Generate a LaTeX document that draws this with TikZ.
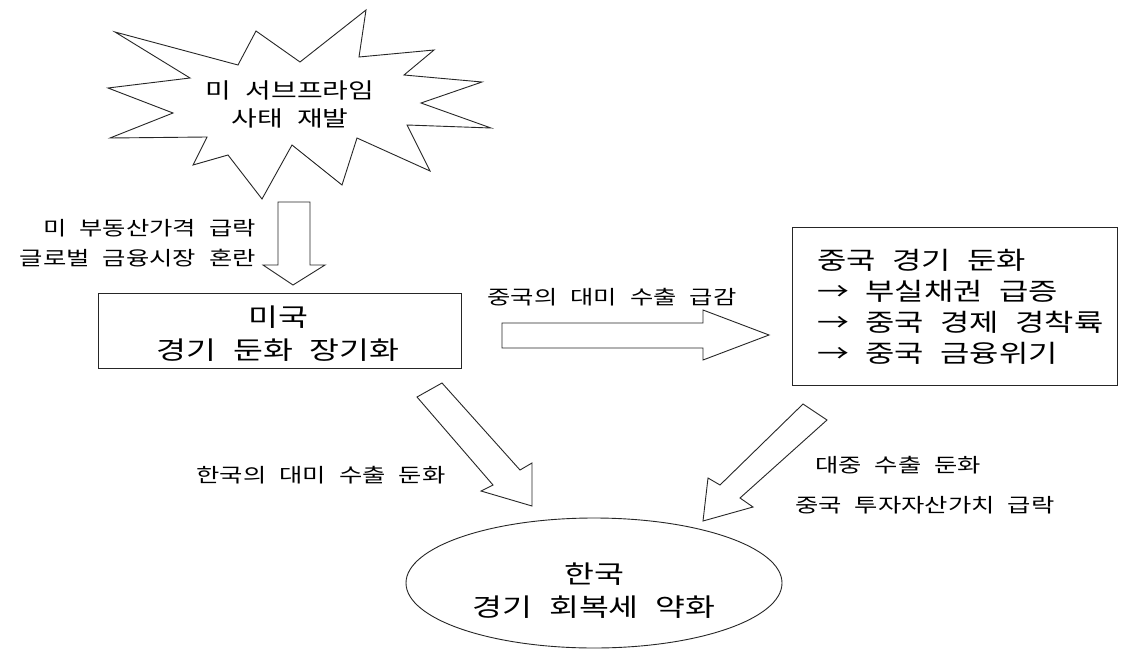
\documentclass[tikz,border=0pt]{standalone}
\usepackage{fontspec}
\usetikzlibrary{shapes.geometric}
\newfontfamily\kr[FakeStretch=1.3,WordSpace=2.3]{Noto Sans CJK KR}
\tikzset{
  shp/.style={draw=black!85, line width=0.9pt, line join=miter, fill=white},
  lbl/.style={font=\kr\fontsize{19.5}{30}\selectfont, inner sep=0pt},
  mid/.style={font=\kr\fontsize{21.5}{28}\selectfont, inner sep=0pt},
  big/.style={font=\kr\fontsize{25}{33}\selectfont, inner sep=0pt},
  cnfont/.style={font=\kr\fontsize{24.5}{31}\selectfont, inner sep=0pt},
  boxshape/.style={draw=black!85, line width=0.9pt},
}
\begin{document}
\begin{tikzpicture}[x=1pt,y=-1pt]
\useasboundingbox[fill=white] (0,0) rectangle (1123,650);

% explosion star
\draw[shp] (366,10) -- (359,57) -- (434,50) -- (404,75) -- (482,82) -- (421,103)
  -- (491,128) -- (407,125) -- (430,171) -- (357,138) -- (342,185) -- (292,145)
  -- (262,199) -- (228,155) -- (193,165) -- (207,137) -- (110,138) -- (173,113)
  -- (108,88) -- (190,78) -- (115,32) -- (238,65) -- (256,31) -- (300,62) -- cycle;
\node[mid, align=center] (star) at (290,104) {미 서브프라임\\사태 재발};

% boxes
\node[boxshape, minimum width=363pt, minimum height=75pt] (us) at (279.5,330.5) {};
\node[big, align=center] (ustxt) at (278,334) {미국\\경기 둔화 장기화};

\node[boxshape, minimum width=325pt, minimum height=158pt] (cn) at (954.5,306) {};
\node[cnfont, align=left, anchor=west] (cntxt) at (817,307)
  {중국 경기 둔화\\→ 부실채권 급증\\→ 중국 경제 경착륙\\→ 중국 금융위기};

\node[boxshape, ellipse, minimum width=376pt, minimum height=130pt, inner sep=0pt] (kr) at (594,583) {};
\node[big, align=center] (krtxt) at (594,591) {한국\\경기 회복세 약화};

% block arrows
\draw[shp] (278,202) -- (310,202) -- (310,265) -- (325,265) -- (293,285) -- (263,265) -- (278,265) -- cycle;
\draw[shp] (502,323) -- (703,323) -- (703,310) -- (769,335) -- (703,360) -- (703,348) -- (502,348) -- cycle;
\draw[shp] (442,383) -- (520,470) -- (532,463) -- (532,506) -- (481,491) -- (493,485) -- (417,397) -- cycle;
\draw[shp] (803,404) -- (827,420) -- (740,498) -- (753,507) -- (703,521) -- (708,478) -- (720,485) -- cycle;

% labels
\node[lbl, align=right, anchor=east] (l1) at (256,243) {미 부동산가격 급락\\글로벌 금융시장 혼란};
\node[lbl] (l2) at (612,297) {중국의 대미 수출 급감};
\node[lbl] (l3) at (321,475) {한국의 대미 수출 둔화};
\node[lbl, anchor=west] (l4) at (815,465) {대중 수출 둔화};
\node[lbl, anchor=west] (l5) at (795,505) {중국 투자자산가치 급락};
\end{tikzpicture}
\end{document}
